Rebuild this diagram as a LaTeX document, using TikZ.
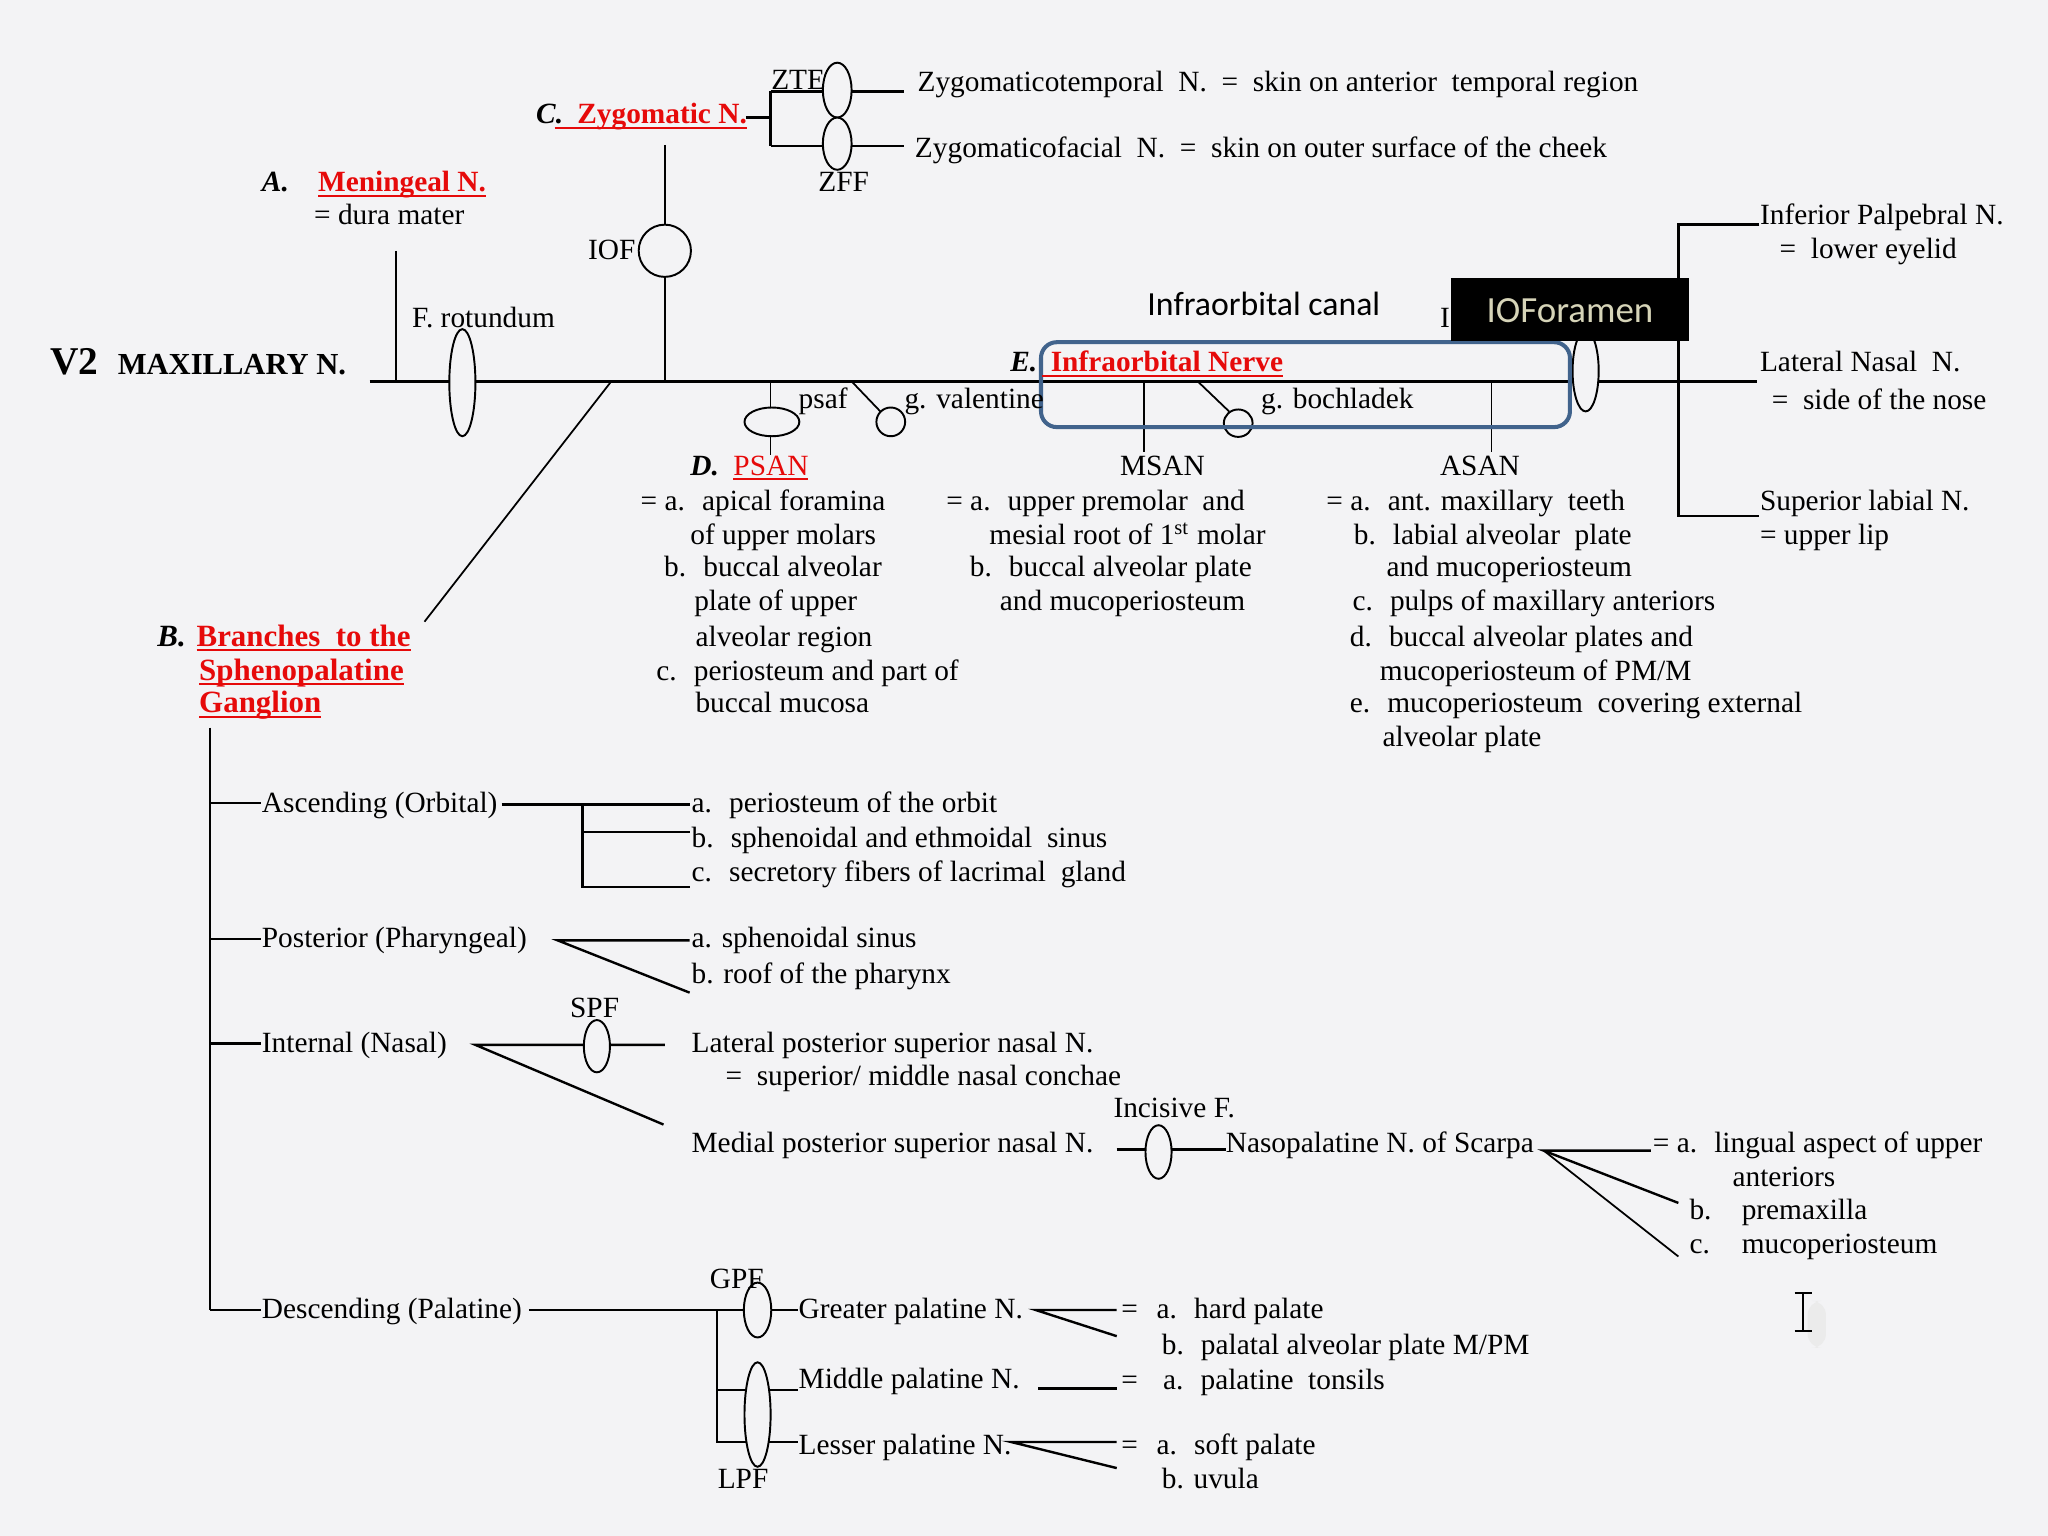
\documentclass[tikz,border=0pt]{standalone}
\usepackage{fontspec}
\setmainfont{Liberation Serif}
\newfontfamily\calib{Carlito}
\usetikzlibrary{shapes.geometric}
\definecolor{bg}{RGB}{243,243,245}
\definecolor{ioblue}{RGB}{65,99,140}
\definecolor{redtxt}{RGB}{230,10,10}
\definecolor{beige}{RGB}{214,212,184}
\newcommand\nf{\fontsize{8.35}{9.7}\selectfont}
\newsavebox\ulbox
\newcommand\redul[1]{\textcolor{redtxt}{\sbox\ulbox{#1}\rlap{\rule[-1.5pt]{\wd\ulbox}{0.6pt}}\usebox\ulbox}}
\begin{document}
\begin{tikzpicture}[x=0.013061cm,y=-0.013061cm,
  txt/.style={inner sep=0pt,anchor=west,text height=5pt,text depth=0pt,font=\nf},
  hd/.style={txt,font=\nf\bfseries},
  hdi/.style={txt,font=\nf\bfseries\itshape},
  ln/.style={line width=0.68pt},
  thn/.style={line width=0.5pt},
  fo/.style 2 args={draw,ellipse,fill=bg,inner sep=0pt,line width=0.55pt,minimum width=#1*0.3716pt,minimum height=#2*0.3716pt},
]
\path[fill=bg] (0,0) rectangle (1568,1176);
\useasboundingbox (0,0) rectangle (1568,1176);

% ---------- junction coordinates ----------
\coordinate (m0) at (283,292); \coordinate (m1) at (1345,292);
\coordinate (menT) at (303,192); \coordinate (menB) at (303,292);
\coordinate (iofT) at (509,111); \coordinate (iofB) at (509,292);
\coordinate (zyA) at (571,90); \coordinate (zyB) at (590,90);
\coordinate (zyT) at (590,70); \coordinate (zyL) at (590,112);
\coordinate (zteR) at (692,70); \coordinate (zffR) at (692,112);
\coordinate (bT) at (468,292); \coordinate (bB) at (325,476);
\coordinate (psT) at (590,292); \coordinate (psB) at (590,348);
\coordinate (gvT) at (652,292); \coordinate (gvB) at (674,315);
\coordinate (msT) at (876,292); \coordinate (msB) at (876,346);
\coordinate (gbT) at (917,292); \coordinate (gbB) at (941,315);
\coordinate (asT) at (1142,292); \coordinate (asB) at (1142,346);
\coordinate (rpT) at (1347,172); \coordinate (rvT) at (1285,172);
\coordinate (rvB) at (1285,395); \coordinate (rpB) at (1347,395);

% ---------- lines ----------
\draw[ln] (m0) -- (m1);
\draw[thn] (menT) -- (menB);
\draw[thn] (iofT) -- (iofB);
\draw[ln] (zyA) -- (zyB);
\draw[ln] (zyT) -- (zyL);
\draw[ln] (zyT) -- (zteR);
\draw[ln] (zyL) -- (zffR);
\draw[thn] (bT) -- (bB);
\draw[thn] (psT) -- (psB);
\draw[thn] (gvT) -- (gvB);
\draw[thn] (msT) -- (msB);
\draw[thn] (gbT) -- (gbB);
\draw[thn] (asT) -- (asB);
\draw[ln] (rpT) -- (rvT) -- (rvB) -- (rpB);

% B branches
\coordinate (sT) at (161,557); \coordinate (sB) at (161,1003);
\draw[ln] (sT) -- (sB);
\foreach \yy in {615,719,799,1003} {\draw[ln] (161,\yy) -- (200,\yy);}
\coordinate (asc0) at (384,616); \coordinate (ascA) at (528,616);
\coordinate (ascJ) at (446,616); \coordinate (ascC0) at (446,679); \coordinate (ascC) at (528,679);
\coordinate (ascBJ) at (446,637); \coordinate (ascB) at (528,637);
\draw[ln] (asc0) -- (ascA);
\draw[ln] (ascJ) -- (ascC0) -- (ascC);
\draw[ln] (ascBJ) -- (ascB);
\coordinate (po0) at (427,720); \coordinate (poA) at (528,720); \coordinate (poB) at (528,760);
\draw[ln] (poA) -- (po0) -- (poB);
\coordinate (in0) at (364,800); \coordinate (inA) at (509,800); \coordinate (inB) at (508,861);
\draw[ln] (inA) -- (in0) -- (inB);
\coordinate (ic0) at (855,880); \coordinate (ic1) at (939,880);
\draw[ln] (ic0) -- (ic1);
\coordinate (np0) at (1182,881); \coordinate (npA) at (1264,881);
\coordinate (npB) at (1285,921); \coordinate (npC) at (1285,962);
\draw[ln] (npA) -- (np0) -- (npB);
\draw[thn] (np0) -- (npC);
\coordinate (de0) at (405,1003); \coordinate (de1) at (611,1003);
\coordinate (deJ) at (549,1003); \coordinate (deJ2) at (549,1064); \coordinate (deJ3) at (549,1104);
\coordinate (deM) at (611,1064); \coordinate (deL) at (611,1104);
\draw[ln] (de0) -- (de1);
\draw[ln] (deJ) -- (deJ3) -- (deL);
\draw[ln] (deJ2) -- (deM);
\coordinate (gp0) at (793,1003); \coordinate (gpA) at (855,1003); \coordinate (gpB) at (855,1023);
\draw[ln] (gpA) -- (gp0) -- (gpB);
\coordinate (mp0) at (795,1063); \coordinate (mpA) at (855,1063);
\draw[ln] (mp0) -- (mpA);
\coordinate (lp0) at (774,1104); \coordinate (lpA) at (855,1104); \coordinate (lpB) at (855,1124);
\draw[ln] (lpA) -- (lp0) -- (lpB);

% ---------- foramina / ganglia ----------
\node[fo={20}{82}] (frot) at (354,293) {};
\node[fo={40}{40}] (iof) at (509,192) {};
\node[fo={22}{42}] (zte) at (641,69) {};
\node[fo={22}{40}] (zff) at (641,110) {};
\node[fo={42}{22}] (psaf) at (591,323) {};
\node[fo={22}{22}] (gval) at (682,323) {};
\node[fo={22}{21}] (gboc) at (948,324) {};
\node[fo={20}{62}] (ioforam) at (1214,284) {};
\node[fo={20}{40}] (spf) at (457,801) {};
\node[fo={20}{41}] (incf) at (887,882) {};
\node[fo={21}{42}] (gpf) at (580,1003) {};
\node[fo={20}{80}] (lpf) at (580,1083) {};

% ---------- infraorbital canal box ----------
\draw[ioblue,line width=1.15pt,rounded corners=4.5pt] (797,262) rectangle (1202,327);
\node[inner sep=0pt,anchor=west,font=\calib\fontsize{9.6}{11}\selectfont] (canal) at (878,233) {Infraorbital canal};
\node[txt] (hiddenI) at (1102,244) {I};
\fill[black] (1111,213) rectangle (1293,261);
\node[inner sep=0pt,font=\calib\fontsize{10.5}{12}\selectfont,text=beige] (iofbox) at (1202,238) {IOForamen};

% ---------- top texts ----------
\node[inner sep=0pt,anchor=base west] (v2) at (38,287) {{\fontsize{11.2}{12}\selectfont\bfseries V2}\hspace{5.5pt}{\fontsize{8.7}{9}\selectfont\bfseries MAXILLARY N.}};
\node[hdi] (Alab) at (200,140) {A.};
\node[hd] (men) at (243,140) {\redul{Meningeal N.}};
\node[txt] (dura) at (240,165) {= dura mater};
\node[hdi] (Clab) at (410,88) {C.};
\node[hd] (zyg) at (424,88) {\redul{\hspace{6.5pt}Zygomatic N.}};
\node[txt] (ztel) at (590,62) {ZTE};
\node[txt] (zffl) at (626,140) {ZFF};
\node[txt] (ztet) at (702,63) {Zygomaticotemporal~ N.~ =~ skin on anterior~ temporal region};
\node[txt] (zfft) at (700,114) {Zygomaticofacial~ N.~ =~ skin on outer surface of the cheek};
\node[txt,anchor=east] (iofl) at (487,192) {IOF};
\node[txt] (frotl) at (315,244) {F. rotundum};
\node[txt] (psafl) at (611,306) {psaf};
\node[txt] (gvall) at (692,306) {g. valentine};
\node[hdi] (Elab) at (773,278) {E.};
\node[hd] (ionerve) at (797,278) {\redul{\hspace{2.6pt}Infraorbital Nerve}};
\node[txt] (gbocl) at (965,306) {g. bochladek};

% PSAN
\node[hdi] (Dlab) at (528,357) {D.};
\node[txt] (psan) at (561,357) {\redul{PSAN}};
\node[txt] (ps1) at (490,384) {= a.~ apical foramina};
\node[txt] (ps2) at (528,410) {of upper molars};
\node[txt] (ps3) at (508,435) {b.~ buccal alveolar};
\node[txt] (ps4) at (531,461) {plate of upper};
\node[txt] (ps5) at (532,488) {alveolar region};
\node[txt] (ps6) at (502,514) {c.~ periosteum and part of};
\node[txt] (ps7) at (532,539) {buccal mucosa};
% MSAN
\node[txt] (msan) at (857,357) {MSAN};
\node[txt] (ms1) at (724,384) {= a.~ upper premolar~ and};
\node[txt] (ms2) at (757,410) {mesial root of 1\textsuperscript{st} molar};
\node[txt] (ms3) at (742,435) {b.~ buccal alveolar plate};
\node[txt] (ms4) at (765,461) {and mucoperiosteum};
% ASAN
\node[txt] (asan) at (1102,357) {ASAN};
\node[txt] (as1) at (1015,384) {= a.~ ant. maxillary~ teeth};
\node[txt] (as2) at (1036,410) {b.~ labial alveolar~ plate};
\node[txt] (as3) at (1061,435) {and mucoperiosteum};
\node[txt] (as4) at (1035,461) {c.~ pulps of maxillary anteriors};
\node[txt] (as5) at (1033,488) {d.~ buccal alveolar plates and};
\node[txt] (as6) at (1056,514) {mucoperiosteum of PM/M};
\node[txt] (as7) at (1033,539) {e.~ mucoperiosteum~ covering external};
\node[txt] (as8) at (1058,565) {alveolar plate};
% right side
\node[txt] (ipal) at (1347,165) {Inferior Palpebral N.};
\node[txt] (ipal2) at (1362,191) {=~ lower eyelid};
\node[txt] (lnas) at (1347,278) {Lateral Nasal~ N.};
\node[txt] (lnas2) at (1356,307) {=~ side of the nose};
\node[txt] (slab) at (1347,384) {Superior labial N.};
\node[txt] (slab2) at (1347,410) {= upper lip};

% ---------- B ----------
\node[txt,font=\fontsize{8.8}{10}\selectfont\bfseries\itshape] (Blab) at (120,488) {B.};
\node[txt,font=\fontsize{8.8}{10}\selectfont\bfseries] (br1) at (150,488) {\redul{Branches~ to the}};
\node[txt,font=\fontsize{8.8}{10}\selectfont\bfseries] (br2) at (152,514) {\redul{Sphenopalatine}};
\node[txt,font=\fontsize{8.8}{10}\selectfont\bfseries] (br3) at (152,539) {\redul{Ganglion}};

\node[txt] (asc) at (200,615) {Ascending (Orbital)};
\node[txt] (asca) at (529,615) {a.~ periosteum of the orbit};
\node[txt] (ascb) at (529,642) {b.~ sphenoidal and ethmoidal~ sinus};
\node[txt] (ascc) at (529,668) {c.~ secretory fibers of lacrimal~ gland};
\node[txt] (pos) at (200,719) {Posterior (Pharyngeal)};
\node[txt] (posa) at (529,719) {a. sphenoidal sinus};
\node[txt] (posb) at (529,746) {b. roof of the pharynx};
\node[txt] (int) at (200,799) {Internal (Nasal)};
\node[txt] (spfl) at (436,772) {SPF};
\node[txt] (lpsn) at (529,799) {Lateral posterior superior nasal N.};
\node[txt] (lpsn2) at (555,824) {=~ superior/ middle nasal conchae};
\node[txt] (mpsn) at (529,876) {Medial posterior superior nasal N.};
\node[txt] (incl) at (852,849) {Incisive F.};
\node[txt] (naso) at (938,876) {Nasopalatine N. of Scarpa};
\node[txt] (nasa) at (1265,876) {= a.~ lingual aspect of upper};
\node[txt] (nasa2) at (1326,902) {anteriors};
\node[txt] (nasbl) at (1293,927) {b.};
\node[txt] (nasb) at (1333,927) {premaxilla};
\node[txt] (nascl) at (1293,953) {c.};
\node[txt] (nasc) at (1333,953) {mucoperiosteum};
\node[txt] (des) at (200,1003) {Descending (Palatine)};
\node[txt] (gpfl) at (543,980) {GPF};
\node[txt] (lpfl) at (549,1133) {LPF};
\node[txt] (gpn) at (611,1003) {Greater palatine N.};
\node[txt] (mpn) at (611,1056) {Middle palatine N.};
\node[txt] (lpn) at (611,1107) {Lesser palatine N.};
\node[txt] (eq1) at (858,1003) {=};
\node[txt] (gpa) at (885,1003) {a.~ hard palate};
\node[txt] (gpb) at (889,1030) {b.~ palatal alveolar plate M/PM};
\node[txt] (eq2) at (858,1057) {=};
\node[txt] (mpa) at (890,1057) {a.~ palatine~ tonsils};
\node[txt] (eq3) at (858,1107) {=};
\node[txt] (lpa) at (885,1107) {a.~ soft palate};
\node[txt] (lpb) at (889,1133) {b. uvula};

% text cursor
\coordinate (cuT) at (1380.5,990); \coordinate (cuB) at (1380.5,1019);
\fill[black!8,rounded corners=4pt] (1384,996) rectangle (1398,1032);
\draw[line width=0.7pt] (cuT) -- (cuB);
\draw[line width=0.7pt] (1374,990) -- (1387,990);
\draw[line width=0.7pt] (1374,1019) -- (1387,1019);
\end{tikzpicture}
\end{document}
